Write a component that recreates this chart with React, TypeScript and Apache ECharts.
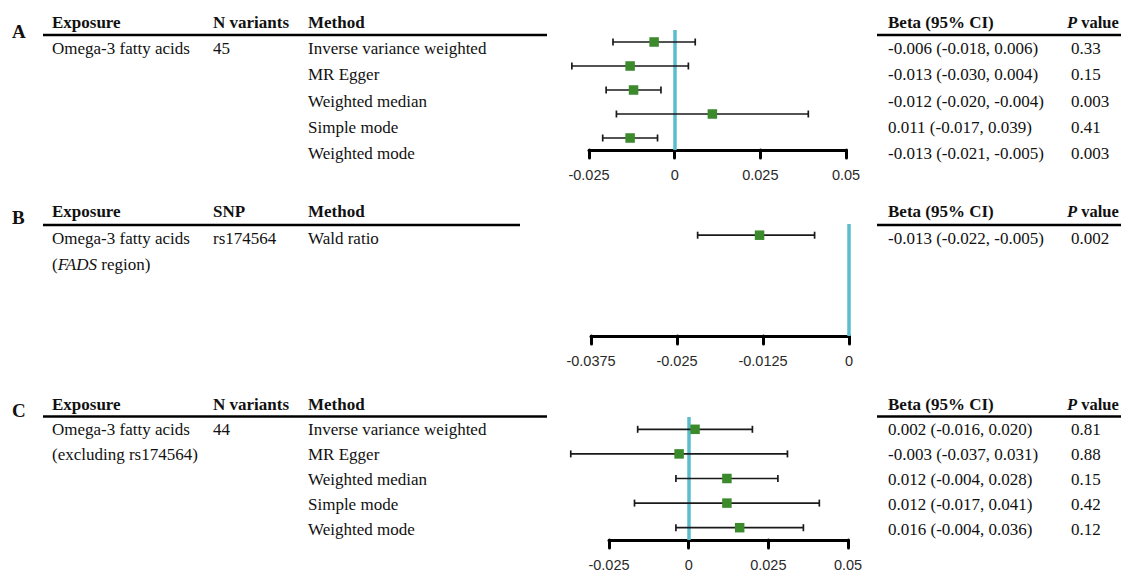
import React, { useEffect, useRef } from "react";
import * as echarts from "echarts";

// ---------- data ----------
const methodsA = ["Inverse variance weighted", "MR Egger", "Weighted median", "Simple mode", "Weighted mode"];
const betaA = [-0.006, -0.013, -0.012, 0.011, -0.013];
const lowA = [-0.018, -0.030, -0.020, -0.017, -0.021];
const highA = [0.006, 0.004, -0.004, 0.039, -0.005];
const pA = ["0.33", "0.15", "0.003", "0.41", "0.003"];

const methodsB = ["Wald ratio"];
const betaB = [-0.013];
const lowB = [-0.022];
const highB = [-0.005];
const pB = ["0.002"];

const methodsC = ["Inverse variance weighted", "MR Egger", "Weighted median", "Simple mode", "Weighted mode"];
const betaC = [0.002, -0.003, 0.012, 0.012, 0.016];
const lowC = [-0.016, -0.037, -0.004, -0.017, -0.004];
const highC = [0.020, 0.031, 0.028, 0.041, 0.036];
const pC = ["0.81", "0.88", "0.15", "0.42", "0.12"];

const axisA = { min: -0.025, max: 0.05, interval: 0.025 };
const axisB = { min: -0.0375, max: 0, interval: 0.0125 };
const axisC = { min: -0.025, max: 0.05, interval: 0.025 };

const rowSlots = ["0", "1", "2", "3", "4"];

// ---------- style ----------
const SERIF = "Liberation Serif";
const SANS = "Liberation Sans";
const GREEN = "#3b8a2c";
const BLUE = "#5bbccc";
const TXT = "#111";

const fmt = (v: number) => v.toFixed(3);
const ci = (b: number, l: number, h: number) => `${fmt(b)} (${fmt(l)}, ${fmt(h)})`;

function txt(x: number, y: number, text: string, bold = false, extra: any = {}) {
  return {
    type: "text",
    x,
    y,
    silent: true,
    style: {
      text,
      fill: TXT,
      fontFamily: SERIF,
      fontSize: 17,
      fontWeight: bold ? "bold" : "normal",
      verticalAlign: "middle",
      ...extra,
    },
  };
}

function pHeader(x: number, y: number) {
  const fs = 16.5;
  return {
    type: "text",
    x,
    y,
    silent: true,
    style: {
      text: "{pi|P} {b|value}",
      fill: TXT,
      fontFamily: SERIF,
      fontSize: fs,
      fontWeight: "bold",
      verticalAlign: "middle",
      rich: {
        pi: { fontFamily: SERIF, fontSize: fs, fontWeight: "bold", fontStyle: "italic", fill: TXT },
        b: { fontFamily: SERIF, fontSize: fs, fontWeight: "bold", fill: TXT },
      },
    },
  };
}

function hline(x1: number, x2: number, y: number) {
  return {
    type: "line",
    silent: true,
    shape: { x1, y1: y, x2, y2: y },
    style: { stroke: "#000", lineWidth: 2.5 },
  };
}

function buildGraphics() {
  const g: any[] = [];
  const colExp = 52, colN = 213, colM = 308, colB = 888, colP = 1071;
  const letter = (t: string, y: number) => txt(12, y, t, true, { fontSize: 19 });

  // Panel A
  const hA = 22, lA = 35, rA = [48, 74.5, 101, 127.5, 153.5];
  g.push(letter("A", 31));
  g.push(txt(colExp, hA, "Exposure", true), txt(colN, hA, "N variants", true), txt(colM, hA, "Method", true));
  g.push(txt(colB, hA, "Beta (95% CI)", true), pHeader(colP - 4, hA));
  g.push(hline(43, 547, lA), hline(877, 1121, lA));
  g.push(txt(colExp, rA[0], "Omega-3 fatty acids"), txt(colN, rA[0], "45"));
  methodsA.forEach((m, i) => {
    g.push(txt(colM, rA[i], m));
    g.push(txt(colB, rA[i], ci(betaA[i], lowA[i], highA[i])));
    g.push(txt(colP, rA[i], pA[i]));
  });

  // Panel B
  const hB = 211, lB = 225, rB = [238, 264];
  g.push(letter("B", 217));
  g.push(txt(colExp, hB, "Exposure", true), txt(colN, hB, "SNP", true), txt(colM, hB, "Method", true));
  g.push(txt(colB, hB, "Beta (95% CI)", true), pHeader(colP - 4, hB));
  g.push(hline(43, 520, lB), hline(877, 1121, lB));
  g.push(txt(colExp, rB[0], "Omega-3 fatty acids"), txt(colN, rB[0], "rs174564"));
  g.push({
    type: "text",
    x: colExp,
    y: rB[1],
    silent: true,
    style: {
      text: "({i|FADS} region)",
      fill: TXT,
      fontFamily: SERIF,
      fontSize: 17,
      verticalAlign: "middle",
      rich: {
        i: { fontFamily: SERIF, fontSize: 17, fontStyle: "italic", fill: TXT },
      },
    },
  });
  methodsB.forEach((m, i) => {
    g.push(txt(colM, rB[i], m));
    g.push(txt(colB, rB[i], ci(betaB[i], lowB[i], highB[i])));
    g.push(txt(colP, rB[i], pB[i]));
  });

  // Panel C
  const hC = 404, lC = 416.5, rC = [429, 454, 479, 504, 529];
  g.push(letter("C", 410));
  g.push(txt(colExp, hC, "Exposure", true), txt(colN, hC, "N variants", true), txt(colM, hC, "Method", true));
  g.push(txt(colB, hC, "Beta (95% CI)", true), pHeader(colP - 4, hC));
  g.push(hline(43, 547, lC), hline(877, 1121, lC));
  g.push(txt(colExp, rC[0], "Omega-3 fatty acids"), txt(colN, rC[0], "44"));
  g.push(txt(colExp, rC[1], "(excluding rs174564)"));
  methodsC.forEach((m, i) => {
    g.push(txt(colM, rC[i], m));
    g.push(txt(colB, rC[i], ci(betaC[i], lowC[i], highC[i])));
    g.push(txt(colP, rC[i], pC[i]));
  });
  return g;
}

function renderForest(params: any, api: any) {
  const b = api.value(0), lo = api.value(1), hi = api.value(2), row = api.value(3);
  const pB = api.coord([b, row]);
  const pL = api.coord([lo, row]);
  const pH = api.coord([hi, row]);
  const cap = 3.5;
  const s = 9.5;
  const lineStyle = { stroke: "#1a1a1a", lineWidth: 1.7 };
  return {
    type: "group",
    children: [
      { type: "line", shape: { x1: pL[0], y1: pL[1], x2: pH[0], y2: pH[1] }, style: lineStyle },
      { type: "line", shape: { x1: pL[0], y1: pL[1] - cap, x2: pL[0], y2: pL[1] + cap }, style: lineStyle },
      { type: "line", shape: { x1: pH[0], y1: pH[1] - cap, x2: pH[0], y2: pH[1] + cap }, style: lineStyle },
      { type: "rect", shape: { x: pB[0] - s / 2, y: pB[1] - s / 2, width: s, height: s }, style: { fill: GREEN } },
    ],
  };
}

function makeX(idx: number, ax: { min: number; max: number; interval: number }) {
  return {
    type: "value",
    gridIndex: idx,
    min: ax.min,
    max: ax.max,
    interval: ax.interval,
    position: "bottom",
    splitLine: { show: false },
    axisLine: { show: true, onZero: false, lineStyle: { color: "#000", width: 3, cap: "round" } },
    axisTick: { show: true, inside: false, length: 8, lineStyle: { color: "#000", width: 3, cap: "round" } },
    axisLabel: {
      show: true,
      margin: 17,
      fontFamily: SANS,
      fontSize: 14.5,
      color: "#2a2a2a",
      formatter: (v: number) => String(parseFloat(v.toFixed(4))),
    },
  };
}

function makeY(idx: number) {
  return {
    type: "category",
    gridIndex: idx,
    data: rowSlots,
    inverse: true,
    show: false,
  };
}

function forestData(b: number[], l: number[], h: number[]) {
  return b.map((v, i) => [v, l[i], h[i], i]);
}

function refSeries(idx: number) {
  return {
    type: "line",
    xAxisIndex: idx,
    yAxisIndex: idx,
    data: [],
    z: 1,
    silent: true,
    markLine: {
      silent: true,
      symbol: "none",
      label: { show: false },
      lineStyle: { color: BLUE, width: 3.5, type: "solid" },
      data: [{ xAxis: 0 }],
    },
  };
}

function forestSeries(idx: number, data: number[][]) {
  return {
    type: "custom",
    xAxisIndex: idx,
    yAxisIndex: idx,
    clip: false,
    z: 5,
    silent: true,
    encode: { x: [0, 1, 2], y: 3 },
    renderItem: renderForest,
    data,
  };
}

export default function App() {
  const ref = useRef<HTMLDivElement>(null);
  useEffect(() => {
    if (!ref.current) return;
    const chart = echarts.init(ref.current, undefined, { renderer: "svg" });
    chart.setOption({
      animation: false,
      backgroundColor: "#fff",
      grid: [
        { left: 589, width: 257, top: 30, height: 120 },
        { left: 591, width: 258, top: 224, height: 112 },
        { left: 609, width: 239, top: 417, height: 123 },
      ],
      xAxis: [makeX(0, axisA), makeX(1, axisB), makeX(2, axisC)],
      yAxis: [makeY(0), makeY(1), makeY(2)],
      series: [
        refSeries(0),
        refSeries(1),
        refSeries(2),
        forestSeries(0, forestData(betaA, lowA, highA)),
        forestSeries(1, forestData(betaB, lowB, highB)),
        forestSeries(2, forestData(betaC, lowC, highC)),
      ],
      graphic: buildGraphics(),
    });
    return () => chart.dispose();
  }, []);
  return (
    <div
      ref={ref}
      style={{ position: "absolute", left: 0, top: 0, width: 1121, height: 574, background: "#fff" }}
    />
  );
}
